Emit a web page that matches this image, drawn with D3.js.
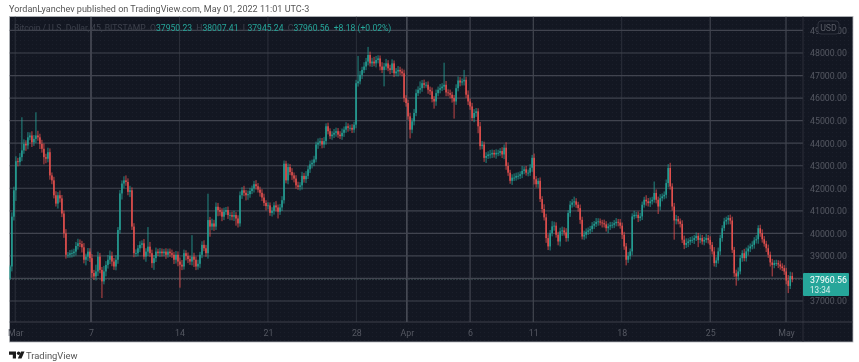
<!DOCTYPE html>
<html>
<head>
<meta charset="utf-8">
<script src="https://cdn.jsdelivr.net/npm/d3@7"></script>
<style>
  html, body { margin: 0; padding: 0; background: #fff; }
  svg { display: block; filter: blur(0.6px); font-family: Roboto, sans-serif; }
</style>
</head>
<body>
<svg id="chart"></svg>
<script>
// closing price per candle (one candle every 3.8 hours)
const closes = [
  38530,40740,41910,43200,43160,43380,43680,43970,43900,44260,44340,44040,44190,44340,44260,43970,43750,43380,43310,43600,
  42570,42350,41690,41320,41690,41550,40880,40000,39050,39050,39120,39120,39190,39440,39560,39530,39380,38830,38970,39190,
  38900,38240,38090,38310,38970,38380,37870,38310,38600,38830,39000,38750,38530,38830,40150,41770,42210,42350,42280,41840,
  41910,40300,39120,39120,39340,39490,39560,38970,39190,39410,39120,38680,38900,39190,39120,39190,39120,39190,39050,39190,
  39120,39050,38830,39050,38750,38610,38530,39120,39000,38860,38750,38970,38830,38530,38650,39050,39490,39340,39120,40590,
  40300,40440,40300,41180,41030,40960,40740,40960,41030,40810,40810,40740,40810,40660,40440,41690,41910,41800,41690,41740,
  41880,41990,42180,42090,41940,41800,41590,41350,41210,41240,40910,41000,41240,41150,40960,41150,41470,43090,42350,42940,
  42720,42570,42430,42130,42060,42130,
  42550,42400,42550,42840,43060,43130,43280,43940,44020,44090,43940,44090,44750,44530,44310,44380,44460,44530,44380,44310,
  44460,44600,44750,44680,44680,44600,44820,46660,46740,47030,47250,47400,47620,47910,47540,47620,47540,47690,47760,47400,
  47250,47400,47540,47320,47250,47540,47100,47180,47250,47180,47100,46000,45780,45190,44600,44970,45340,46220,46370,46440,
  46660,46590,46590,46370,46300,45960,45850,46220,46370,46440,46510,46590,46250,46220,46150,46000,45850,46440,46780,46690,
  46740,46810,46150,45850,45630,45120,45340,45410,44750,43870,43940,43350,43430,43500,43500,43570,43500,43570,43570,43650,
  43500,43800,42990,42690,42330,42470,42470,42550,42550,42620,42770,42840,42690,42690,42910,43350,42400,42180,42330,41520,
  41080,40710,
  39790,39420,40010,40310,40340,39940,39640,40090,40130,40040,39790,40900,41270,41370,41420,41270,41120,40600,39860,39940,
  40070,40130,40190,40340,40420,40510,40530,40480,40450,40400,40230,40310,40360,40380,40450,40510,40480,40340,39940,39420,
  38830,39000,39200,40750,40820,40820,40680,40750,41270,41490,41420,41340,41420,41490,41790,41490,41190,41560,41640,41710,
  42230,42900,42080,41190,40570,40630,40530,40420,39720,39490,39570,39640,39710,39710,39790,39890,39710,39790,39640,39710,
  39790,39710,39490,39200,38680,38800,39200,39790,40230,40530,40600,40680,40570,39270,38230,38090,38310,38900,39120,38900,
  39200,39330,39420,39490,39690,39740,40230,40010,39740,39540,39340,39050,38710,38600,38680,38680,38620,38530,38460,38310,
  37910,37670,38110,37960
];

// wick length above and below each candle body, in dollars
const wickUp = [
  0,120,90,150,80,110,1400,130,90,160,70,120,100,960,140,90,110,170,80,130,
  100,60,90,110,70,140,80,60,120,50,70,90,60,110,130,100,70,120,60,90,
  80,110,70,230,150,90,60,180,100,140,170,120,90,130,60,80,70,110,150,90,
  130,60,80,100,70,90,60,120,80,800,140,90,70,110,60,90,70,50,80,60,
  70,90,60,100,80,110,140,90,60,80,70,880,100,70,110,60,90,130,80,1100,
  70,140,90,120,100,60,80,110,70,90,60,80,120,60,70,100,70,130,60,90,
  70,60,80,110,70,60,90,100,50,70,60,90,70,120,60,80,110,70,60,90,
  70,100,60,80,90,70,110,60,140,80,100,70,90,60,120,80,70,110,60,90,
  60,80,100,90,70,80,120,70,110,60,70,90,60,80,1060,100,70,120,90,290,
  80,100,140,110,70,60,120,90,130,70,90,110,60,80,100,70,60,90,60,80,
  90,70,110,100,80,230,70,90,60,80,70,100,60,90,70,110,80,910,100,70,
  90,60,70,100,110,80,60,370,70,120,60,90,100,80,70,120,90,60,100,70,
  130,80,60,90,70,60,100,70,170,90,60,80,120,70,90,60,150,60,80,70,
  90,60,120,70,50,80,60,140,90,100,70,160,110,80,60,90,100,70,120,60,
  100,80,140,70,60,90,70,110,80,60,70,90,60,100,70,60,50,90,70,60,
  80,60,70,100,60,90,70,60,80,100,60,70,110,60,80,90,70,60,130,80,
  100,60,440,90,70,110,60,80,90,100,160,70,90,120,70,60,90,110,140,70,
  60,90,70,80,60,100,70,60,110,70,90,60,120,70,100,80,60,90,70,60,
  80,100,60,90,110,70,60,120,100,70,60,90,70,110,60,80,100,70,60,90,
  70,90,60,80,60,100,70,60,90,170,120,90
];
const wickDown = [
  0,150,100,400,120,90,110,80,170,100,60,140,90,110,80,160,100,250,130,90,
  120,100,70,60,150,110,90,130,100,70,60,120,80,100,90,70,160,90,180,120,
  100,140,90,110,130,80,670,60,150,90,120,140,80,100,110,90,200,140,100,80,
  160,80,110,90,70,100,80,60,160,120,90,140,230,100,60,90,80,70,110,60,
  90,70,120,100,140,950,90,70,130,110,80,100,250,90,70,110,80,60,90,170,
  380,90,120,80,200,110,130,80,70,100,160,90,120,250,110,70,90,80,160,130,
  90,70,110,80,60,100,90,70,120,80,60,90,100,110,230,70,90,80,60,100,
  70,130,100,80,60,90,120,80,100,70,90,110,80,60,120,70,100,80,90,70,
  60,90,80,100,70,60,90,110,70,100,60,80,70,90,80,60,110,70,90,100,
  70,90,60,110,80,100,70,660,90,60,120,70,100,60,150,90,70,110,90,80,
  320,90,110,70,60,100,90,80,60,110,90,80,250,120,70,90,60,80,100,70,
  90,130,690,80,70,100,60,110,70,90,80,60,120,100,240,90,70,110,160,60,
  110,90,70,120,80,60,90,140,100,70,60,110,80,60,90,70,100,80,60,90,
  70,110,160,80,90,60,100,70,140,90,110,70,120,60,100,150,130,70,90,80,
  100,60,120,70,90,110,60,80,100,70,90,60,80,70,100,60,120,70,80,150,
  90,60,80,70,100,60,120,80,180,70,90,100,60,80,110,70,90,60,120,80,
  100,70,60,90,260,100,70,60,90,120,70,110,780,100,60,90,80,120,70,110,
  90,70,110,60,250,80,70,100,60,90,120,70,80,110,70,100,90,60,80,130,
  100,70,90,340,120,60,90,70,80,110,90,60,100,70,130,90,80,60,100,70,
  110,440,80,60,90,70,60,80,100,250,70,60
];

const priceTicks = [37000,38000,39000,40000,41000,42000,43000,44000,45000,46000,47000,48000,49000];
const dateTicks = ["2022-03-01","2022-03-07","2022-03-14","2022-03-21","2022-03-28","2022-04-01","2022-04-06","2022-04-11","2022-04-18","2022-04-25","2022-05-01"];
const dateLabels = ["Mar","7","14","21","28","Apr","6","11","18","25","May"];
const brightDays = ["2022-03-07","2022-04-01"];
const midDays = ["2022-04-06","2022-04-11","2022-04-25","2022-05-01"];
const firstOpen = 38000;
const firstCandle = new Date(Date.UTC(2022, 1, 28, 14, 0));
const candleHours = 3.8;
// my wick estimates came out short of the picture
const wickExtra = 70;

const up = "#26a69a", down = "#ef5350";
const panel = { left: 9.5, right: 853, top: 16.5, bottom: 342, axisX: 803, axisY: 322 };

const parseDay = d3.utcParse("%Y-%m-%d");

const x = d3.scaleUtc()
  .domain([parseDay("2022-03-07"), parseDay("2022-05-01")])
  .range([91, 786]);
const y = d3.scaleLinear().domain([37000, 48000]).range([301, 53]);

const data = closes.map((c, i) => {
  const open = i ? closes[i - 1] : firstOpen;
  return {
    date: new Date(+firstCandle + i * candleHours * 36e5),
    open, close: c,
    high: Math.max(open, c) + wickUp[i] + wickExtra,
    low: Math.min(open, c) - wickDown[i] - wickExtra
  };
});

const svg = d3.select("#chart").attr("width", 859).attr("height", 362);

svg.append("text").attr("x", 9).attr("y", 11.5)
  .attr("font-size", 9.05).attr("fill", "#555")
  .text("YordanLyanchev published on TradingView.com, May 01, 2022 11:01 UTC-3");

// dark panel with the faint dotted texture
const defs = svg.append("defs");
const dots = defs.append("pattern").attr("id", "dots")
  .attr("width", 4).attr("height", 4).attr("patternUnits", "userSpaceOnUse");
dots.append("rect").attr("width", 4).attr("height", 4).attr("fill", "#131722");
dots.append("rect").attr("width", 1).attr("height", 1).attr("fill", "#1b1f2b");
defs.append("clipPath").attr("id", "plot").append("rect")
  .attr("x", panel.left).attr("y", panel.top)
  .attr("width", panel.axisX - panel.left).attr("height", panel.axisY - panel.top);

svg.append("rect")
  .attr("x", panel.left).attr("y", panel.top)
  .attr("width", panel.right - panel.left).attr("height", panel.bottom - panel.top)
  .attr("fill", "url(#dots)").attr("stroke", "#b5b7bb").attr("stroke-width", 0.8);

// grid
const plot = svg.append("g").attr("clip-path", "url(#plot)");
const gridDays = dateTicks.map(parseDay);

plot.append("g").selectAll("line").data(dateTicks).join("line")
  .attr("x1", d => x(parseDay(d))).attr("x2", d => x(parseDay(d)))
  .attr("y1", panel.top).attr("y2", panel.axisY)
  .attr("stroke", d => brightDays.includes(d) ? "#6a6d76" : midDays.includes(d) ? "#4b4e58" : "#2c303b")
  .attr("stroke-width", 1);

plot.append("g").selectAll("line").data(priceTicks).join("line")
  .attr("x1", panel.left).attr("x2", panel.axisX)
  .attr("y1", d => y(d)).attr("y2", d => y(d))
  .attr("stroke", "#41444f").attr("stroke-width", 1.2);

// last price line
plot.append("line")
  .attr("x1", panel.left).attr("x2", panel.axisX)
  .attr("y1", y(37960.56)).attr("y2", y(37960.56))
  .attr("stroke", "#5f7a78").attr("stroke-width", 0.8).attr("stroke-dasharray", "1 2");

// candles
const candles = plot.append("g").selectAll("g").data(data).join("g")
  .attr("fill", d => d.close >= d.open ? up : down)
  .attr("stroke", d => d.close >= d.open ? up : down);

candles.append("line")
  .attr("x1", d => x(d.date)).attr("x2", d => x(d.date))
  .attr("y1", d => y(d.high)).attr("y2", d => y(d.low))
  .attr("stroke-width", 0.8);

candles.append("rect")
  .attr("x", d => x(d.date) - 0.7).attr("width", 1.4)
  .attr("y", d => y(Math.max(d.open, d.close)))
  .attr("height", d => Math.max(0.8, Math.abs(y(d.open) - y(d.close))))
  .attr("stroke", "none");

// axes
const yAxis = d3.axisRight(y).tickValues(priceTicks).tickSize(0).tickPadding(7)
  .tickFormat(d => d.toFixed(2));
const yG = svg.append("g").attr("transform", `translate(${panel.axisX},0)`).call(yAxis);
yG.select(".domain").remove();

const xAxis = d3.axisBottom(x).tickValues(gridDays).tickSize(0).tickPadding(8)
  .tickFormat((d, i) => dateLabels[i]);
const xG = svg.append("g").attr("transform", `translate(0,${panel.axisY})`).call(xAxis);
xG.select(".domain").remove();

svg.selectAll(".tick text").attr("fill", "#555862").attr("font-size", 8.8)
  .attr("font-family", "Roboto, sans-serif");

svg.append("line").attr("x1", panel.axisX).attr("x2", panel.axisX)
  .attr("y1", panel.top).attr("y2", panel.bottom).attr("stroke", "#33363f").attr("stroke-width", 0.8);
svg.append("line").attr("x1", panel.left).attr("x2", panel.right)
  .attr("y1", panel.axisY).attr("y2", panel.axisY).attr("stroke", "#4a4d56").attr("stroke-width", 0.8);

// legend line
const legend = svg.append("text").attr("x", 14).attr("y", 30.5).attr("font-size", 8.6);
const legendParts = [
  ["Bitcoin / U.S. Dollar, 45, BITSTAMP  O", "#3d414c"], ["37950.23", up],
  ["  H", "#3d414c"], ["38007.41", up],
  ["  L", "#3d414c"], ["37945.24", up],
  ["  C", "#3d414c"], ["37960.56", up],
  ["  +8.18 (+0.02%)", up]
];
legend.style("white-space", "pre")
  .selectAll("tspan").data(legendParts).join("tspan")
  .attr("fill", d => d[1]).text(d => d[0]);

// USD badge
svg.append("rect").attr("x", 818).attr("y", 21).attr("width", 21).attr("height", 13).attr("rx", 3)
  .attr("fill", "#131722").attr("stroke", "#363a45").attr("stroke-width", 0.8);
svg.append("text").attr("x", 828.5).attr("y", 30.5).attr("text-anchor", "middle")
  .attr("font-size", 8.8).attr("fill", "#5a5d66").text("USD");

// price box
svg.append("rect").attr("x", panel.axisX).attr("y", 273).attr("width", 46).attr("height", 23)
  .attr("rx", 1).attr("fill", up);
svg.append("text").attr("x", 810).attr("y", 282.5).attr("font-size", 8.8).attr("fill", "#fff").text("37960.56");
svg.append("text").attr("x", 810).attr("y", 292.5).attr("font-size", 8.2).attr("fill", "#d5efec").text("13:34");

// footer logo
svg.append("path")
  .attr("d", "M9,351.5h7v7h-3.2v-3.8h-3.8z M21,351.5h3.5l-3,7h-3.7z")
  .attr("fill", "#1a1a1a");
svg.append("circle").attr("cx", 18.6).attr("cy", 353.2).attr("r", 1.7).attr("fill", "#1a1a1a");
svg.append("text").attr("x", 26).attr("y", 358.5).attr("font-size", 9.4).attr("fill", "#555").text("TradingView");
</script>
</body>
</html>
